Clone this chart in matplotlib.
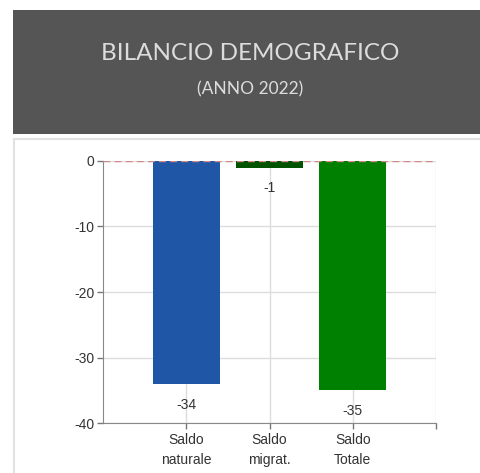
import matplotlib
matplotlib.use("Agg")
import matplotlib.pyplot as plt
from matplotlib.patches import Rectangle

categories = ["Saldo\nnaturale", "Saldo\nmigrat.", "Saldo\nTotale"]
values = [-34, -1, -35]
bar_colors = ["#1f57a6", "#005400", "#008000"]
y_ticks = [0, -10, -20, -30, -40]

plt.rcParams["font.family"] = ["Liberation Sans", "DejaVu Sans"]

fig = plt.figure(figsize=(4.81, 4.73), dpi=100)

# header box
fig.patches.append(Rectangle((13/481, 1-134/473), 1, 124/473, transform=fig.transFigure,
                             facecolor="#555555", edgecolor="none", zorder=0))
fig.text(0.52, 1-54/473, "BILANCIO DEMOGRAFICO", ha="center", va="center",
         color="#dcdcdc", fontsize=17.5, family="Lato", weight="normal")
fig.text(0.52, 1-89/473, "(ANNO 2022)", ha="center", va="center",
         color="#dcdcdc", fontsize=12.5, family="Lato", weight="normal")

# panel border
fig.patches.append(Rectangle((14/481, -0.05), 1, 0.05 + 1-139/473, transform=fig.transFigure,
                             facecolor="none", edgecolor="#e2e2e2", lw=1.5, zorder=0))

ax = fig.add_axes([103/481, 1-423/473, 333/481, 262/473])
x = [1, 2, 3]
ax.bar(x, values, width=0.8, color=bar_colors, zorder=3)
ax.axhline(0, color="#d08888", lw=1, ls=(0, (5, 3)), zorder=4)

for xi, v in zip(x, values):
    ax.annotate(str(v), (xi, v), xytext=(0, -15), textcoords="offset points",
                ha="center", va="center", fontsize=10, color="#333333")

ax.set_xlim(0, 4)
ax.set_ylim(-40, 0)
ax.set_yticks(y_ticks)
ax.set_yticklabels([str(t) for t in y_ticks])
ax.set_xticks([1, 2, 3, 4])
ax.set_xticklabels(categories + [""], linespacing=1.5)
ax.grid(True, color="#dddddd", lw=1, zorder=0)
ax.tick_params(axis="both", length=4, width=1, color="#777777", labelsize=10, labelcolor="#333333")
ax.tick_params(axis="y", pad=2)
for s in ["top", "right"]:
    ax.spines[s].set_visible(False)
for s in ["left", "bottom"]:
    ax.spines[s].set_color("#888888")

fig.savefig("out.png", dpi=100)
